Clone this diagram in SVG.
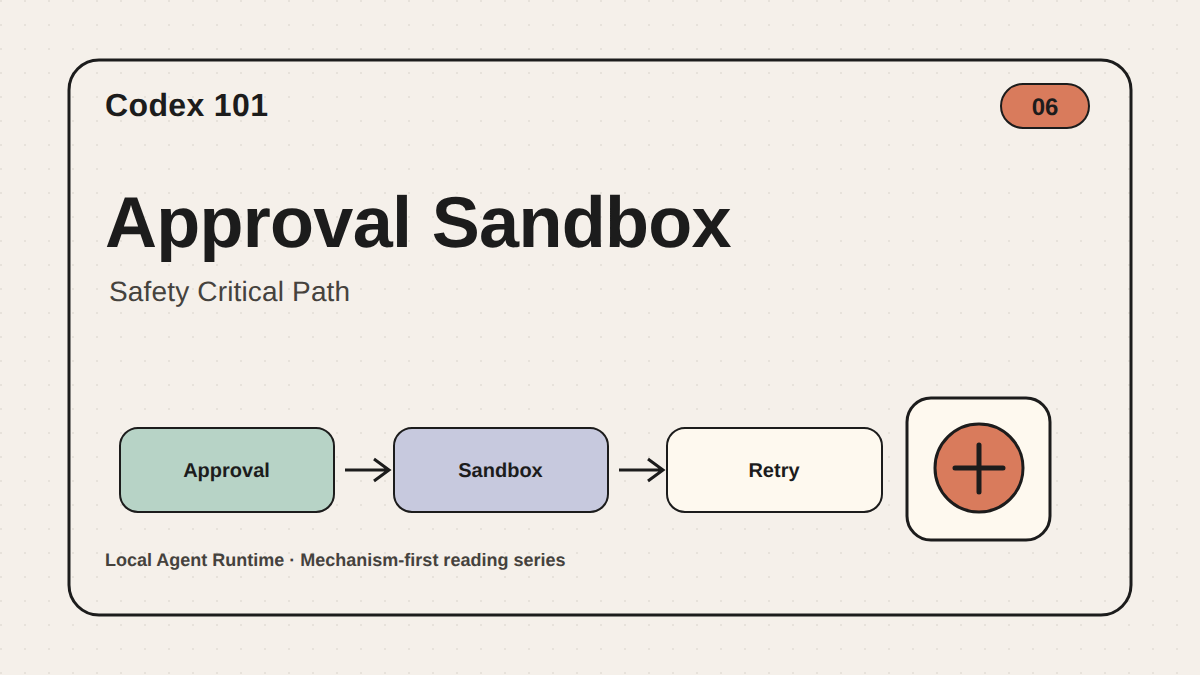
<svg xmlns="http://www.w3.org/2000/svg" width="1200" height="675" viewBox="0 0 1200 675">
<style>
text{font-family:"Liberation Sans",Arial,sans-serif;fill:#1c1c1c;text-rendering:geometricPrecision}
.b{font-weight:700}
.box{stroke:#1c1c1c;stroke-width:2}
.lbl{font-weight:700;font-size:20px;text-anchor:middle}
.ln{fill:none;stroke:#1c1c1c;stroke-width:3;stroke-linecap:butt;stroke-linejoin:miter}
</style>
<defs>
<pattern id="dots" width="24" height="24" patternUnits="userSpaceOnUse"><circle cx="1" cy="1" r="1" fill="#e3ded6"/></pattern>
</defs>
<rect width="1200" height="675" fill="#f5f0ea"/>
<rect width="1200" height="675" fill="url(#dots)"/>
<rect id="card" x="69" y="60" width="1062" height="555" rx="30" fill="none" stroke="#1c1c1c" stroke-width="3"/>
<text id="series" class="b" x="105" y="116" font-size="32" letter-spacing="0.36">Codex 101</text>
<g id="badge"><rect x="1001" y="84" width="88" height="44" rx="22" fill="#d97b5c" class="box"/><text class="b" x="1045" y="115" font-size="24" text-anchor="middle">06</text></g>
<text id="title" class="b" x="105" y="247" font-size="72" letter-spacing="-0.72" word-spacing="1.2">Approval Sandbox</text>
<text id="subtitle" x="109" y="301" font-size="28" letter-spacing="0.16" style="fill:#45423d">Safety Critical Path</text>
<g id="connectors">
<path class="ln" d="M345 470H389M374 459L389 470L374 481"/>
<path class="ln" d="M619 470H663M648 459L663 470L648 481"/>
</g>
<g id="approval"><rect class="box" x="120" y="428" width="214" height="84" rx="18" fill="#b7d3c6"/><text class="lbl" x="226.500" y="477">Approval</text></g>
<g id="sandbox"><rect class="box" x="394" y="428" width="214" height="84" rx="18" fill="#c7c9de"/><text class="lbl" x="500.500" y="477">Sandbox</text></g>
<g id="retry"><rect class="box" x="667" y="428" width="215" height="84" rx="18" fill="#fef9ef"/><text class="lbl" x="774" y="477">Retry</text></g>
<g id="icon"><rect x="907" y="398" width="143" height="142" rx="24" fill="#fef9ef" stroke="#1c1c1c" stroke-width="3"/><circle cx="979" cy="468" r="44" fill="#d97b5c" stroke="#1c1c1c" stroke-width="3"/><path d="M955 468H1003M979 445V492" fill="none" stroke="#1c1c1c" stroke-width="5" stroke-linecap="round"/></g>
<text id="footer" class="b" x="105" y="566" font-size="18" style="fill:#45423d">Local Agent Runtime · Mechanism-first reading series</text>
</svg>
